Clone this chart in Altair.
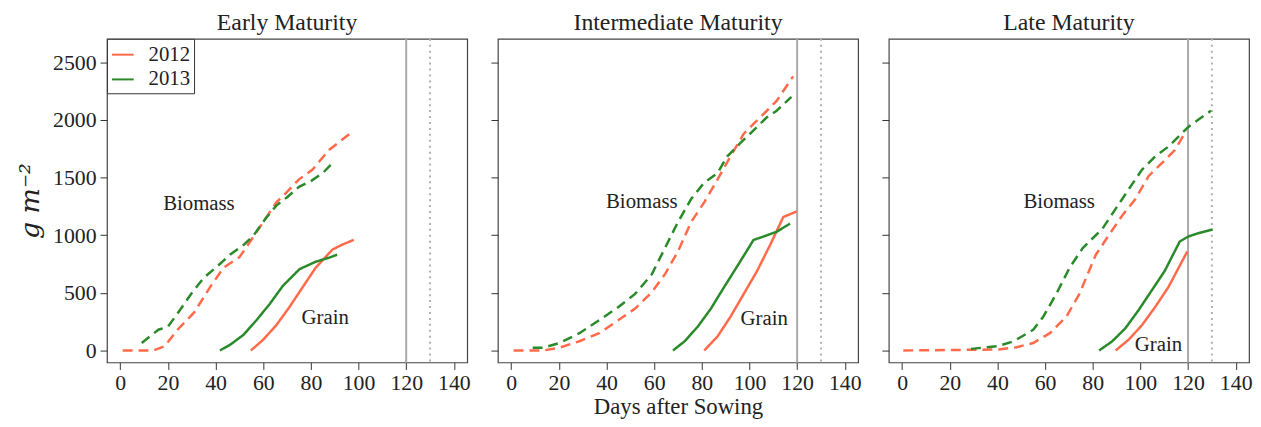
import altair as alt
import pandas as pd

FONT = "Liberation Serif"
C2012 = "#FF6A4A"
C2013 = "#2A8A2A"

# ---------------- Early maturity ----------------
early_bio_2012_day = [1, 14, 18.6, 24, 31, 38, 43.4, 50, 54.5, 60, 65.5, 69.7, 75, 80.7, 87.6, 97.2]
early_bio_2012_val = [0, 0, 37, 180, 330, 560, 720, 810, 945, 1115, 1285, 1370, 1485, 1570, 1740, 1895]
early_bio_2013_day = [9, 16, 20, 24, 29.7, 35, 40.7, 46, 51.7, 56, 61, 65.5, 70, 75, 80, 85, 89]
early_bio_2013_val = [65, 180, 207, 320, 490, 630, 730, 830, 915, 1000, 1145, 1257, 1330, 1420, 1470, 1540, 1625]
early_gr_2012_day = [54.8, 60, 65.5, 71, 76.5, 82, 89, 93, 98]
early_gr_2012_val = [0, 94, 220, 377, 548, 718, 875, 917, 960]
early_gr_2013_day = [41.8, 46.2, 51.7, 57.2, 62.8, 68.3, 75.2, 76.5, 82, 87.6, 91]
early_gr_2013_val = [0, 51, 136, 264, 406, 562, 705, 718, 770, 805, 831]

# ---------------- Intermediate maturity ----------------
inter_bio_2012_day = [1, 13.4, 20, 28.6, 37, 45, 52, 59, 64.5, 70, 75.5, 81, 86.6, 92, 97.6, 101.7, 107.3, 111.4, 118.3]
inter_bio_2012_val = [0, 0, 23, 80, 150, 264, 363, 505, 661, 860, 1115, 1285, 1484, 1683, 1881, 1966, 2080, 2165, 2378]
inter_bio_2013_day = [9, 13.4, 20.3, 28.6, 37, 45, 52, 59, 64.5, 70, 75.5, 81, 86.6, 90.6, 96, 101.7, 107.3, 111.4, 117.6]
inter_bio_2013_val = [23, 23, 65, 150, 264, 377, 491, 661, 888, 1115, 1314, 1456, 1540, 1683, 1796, 1910, 2023, 2080, 2200]
inter_gr_2012_day = [81, 86.6, 92, 97.6, 103.2, 108.7, 114.2, 119.8]
inter_gr_2012_val = [0, 122, 292, 491, 690, 917, 1158, 1206]
inter_gr_2013_day = [67.9, 72.8, 78.3, 83.8, 89.3, 96.2, 101.7, 105.8, 111.4, 117]
inter_gr_2013_val = [0, 80, 207, 363, 548, 775, 959, 988, 1030, 1101]

# ---------------- Late maturity ----------------
late_bio_2012_day = [0.5, 40, 48, 55, 62, 68.9, 74.4, 81.3, 86.8, 92.4, 97.9, 103.4, 109, 114.5, 119.3]
late_bio_2012_val = [0, 8, 28, 65, 150, 292, 491, 831, 1002, 1172, 1314, 1512, 1626, 1740, 1910]
late_bio_2013_day = [28.9, 40, 46.8, 55, 59.2, 64.7, 70.3, 75.8, 84.1, 89.6, 95.1, 100.7, 106.2, 111.7, 120, 129.6]
late_bio_2013_val = [14, 37, 80, 179, 292, 491, 718, 888, 1058, 1229, 1399, 1569, 1683, 1768, 1938, 2080]
late_gr_2012_day = [89.6, 95.1, 100.7, 106.2, 111.7, 119.7]
late_gr_2012_val = [0, 94, 221, 377, 548, 860]
late_gr_2013_day = [82.7, 88.2, 93.7, 99.2, 104.7, 110.2, 116.5, 120, 124, 130.3]
late_gr_2013_val = [0, 80, 193, 349, 519, 690, 945, 988, 1016, 1050]

panels = ["Early Maturity", "Intermediate Maturity", "Late Maturity"]
years = ["2012", "2013"]
types = ["Biomass", "Grain"]

series = [
    ("Early Maturity", "2012", "Biomass", early_bio_2012_day, early_bio_2012_val),
    ("Early Maturity", "2013", "Biomass", early_bio_2013_day, early_bio_2013_val),
    ("Early Maturity", "2012", "Grain", early_gr_2012_day, early_gr_2012_val),
    ("Early Maturity", "2013", "Grain", early_gr_2013_day, early_gr_2013_val),
    ("Intermediate Maturity", "2012", "Biomass", inter_bio_2012_day, inter_bio_2012_val),
    ("Intermediate Maturity", "2013", "Biomass", inter_bio_2013_day, inter_bio_2013_val),
    ("Intermediate Maturity", "2012", "Grain", inter_gr_2012_day, inter_gr_2012_val),
    ("Intermediate Maturity", "2013", "Grain", inter_gr_2013_day, inter_gr_2013_val),
    ("Late Maturity", "2012", "Biomass", late_bio_2012_day, late_bio_2012_val),
    ("Late Maturity", "2013", "Biomass", late_bio_2013_day, late_bio_2013_val),
    ("Late Maturity", "2012", "Grain", late_gr_2012_day, late_gr_2012_val),
    ("Late Maturity", "2013", "Grain", late_gr_2013_day, late_gr_2013_val),
]

# text annotations
label_panel = ["Early Maturity", "Early Maturity", "Intermediate Maturity", "Intermediate Maturity",
               "Late Maturity", "Late Maturity"]
label_text = ["Biomass", "Grain", "Biomass", "Grain", "Biomass", "Grain"]
label_day = [33, 86, 54.8, 106.2, 65.9, 107.6]
label_val = [1271, 278, 1291, 270, 1291, 43]

vline_solid = [120]
vline_dotted = [130]

x_ticks = [0, 20, 40, 60, 80, 100, 120, 140]
y_ticks = [0, 500, 1000, 1500, 2000, 2500]

rows = []
for p, yr, tp, xs, vs in series:
    for i, (d, v) in enumerate(zip(xs, vs)):
        rows.append({"panel": p, "year": yr, "type": tp, "day": d, "value": v, "order": i})
df = pd.DataFrame(rows)
labels_df = pd.DataFrame({"panel": label_panel, "text": label_text, "day": label_day, "value": label_val})

XDOM = [-5.6, 145.6]
YDOM = [-104, 2704]
PW = 364
PH = 327


def make_panel(idx):
    name = panels[idx]
    sub = df[df.panel == name]
    lab = labels_df[labels_df.panel == name]
    xaxis = alt.Axis(values=x_ticks, tickSize=7, domain=False, grid=False,
                     labelFont=FONT, labelFontSize=22, labelColor="#222", labelPadding=3,
                     tickColor="#333",
                     title="Days after Sowing" if idx == 1 else None,
                     titleFont=FONT, titleFontSize=23, titleFontWeight="normal",
                     titleColor="#222", titlePadding=3)
    yaxis = alt.Axis(values=y_ticks, tickSize=7, domain=False, grid=False, format="d",
                     labels=(idx == 0), labelFont=FONT, labelFontSize=22, labelColor="#222",
                     labelPadding=4, tickColor="#333",
                     title="g m⁻²" if idx == 0 else None,
                     titleFont="DejaVu Serif", titleFontSize=27, titleFontStyle="italic",
                     titleFontWeight="normal", titleColor="#222", titlePadding=8)
    x = alt.X("day:Q", scale=alt.Scale(domain=XDOM, nice=False, zero=False), axis=xaxis)
    y = alt.Y("value:Q", scale=alt.Scale(domain=YDOM, nice=False, zero=False), axis=yaxis)

    if idx == 0:
        legend = alt.Legend(title=None, orient="top-left", offset=0, strokeColor="#333",
                            fillColor="white", padding=4, symbolType="stroke",
                            symbolSize=484, symbolStrokeWidth=2, labelFont=FONT,
                            labelFontSize=21, labelColor="#222", rowPadding=3,
                            labelOffset=14, cornerRadius=0)
    else:
        legend = None

    lines = alt.Chart(sub).mark_line(strokeWidth=2.5, clip=True).encode(
        x=x, y=y,
        color=alt.Color("year:N", scale=alt.Scale(domain=years, range=[C2012, C2013]), legend=legend),
        strokeDash=alt.StrokeDash("type:N", scale=alt.Scale(domain=types, range=[[10, 6], [1, 0]]),
                                  legend=None),
        order="order:Q",
    )
    r1 = alt.Chart(pd.DataFrame({"day": vline_solid})).mark_rule(color="#a8a8a8", strokeWidth=2).encode(
        x=alt.X("day:Q", scale=alt.Scale(domain=XDOM, nice=False)))
    r2 = alt.Chart(pd.DataFrame({"day": vline_dotted})).mark_rule(
        color="#b0b0b0", strokeWidth=2, strokeDash=[2, 4]).encode(
        x=alt.X("day:Q", scale=alt.Scale(domain=XDOM, nice=False)))
    txt = alt.Chart(lab).mark_text(font=FONT, fontSize=21, color="#222").encode(
        x=alt.X("day:Q", scale=alt.Scale(domain=XDOM, nice=False)),
        y=alt.Y("value:Q", scale=alt.Scale(domain=YDOM, nice=False)),
        text="text:N")
    return alt.layer(r1, r2, lines, txt).properties(
        width=PW, height=PH,
        title=alt.TitleParams(name, font=FONT, fontSize=24, fontWeight="normal",
                              color="#222", offset=3),
    )


chart = alt.hconcat(make_panel(0), make_panel(1), make_panel(2), spacing=18).resolve_legend(
    color="independent"
).properties(
    padding={"left": 8, "top": 0, "right": 0, "bottom": 0}
).configure_view(stroke="#444", strokeWidth=1.2)

chart.save("out.html", embed_options={"renderer": "svg", "actions": False})
